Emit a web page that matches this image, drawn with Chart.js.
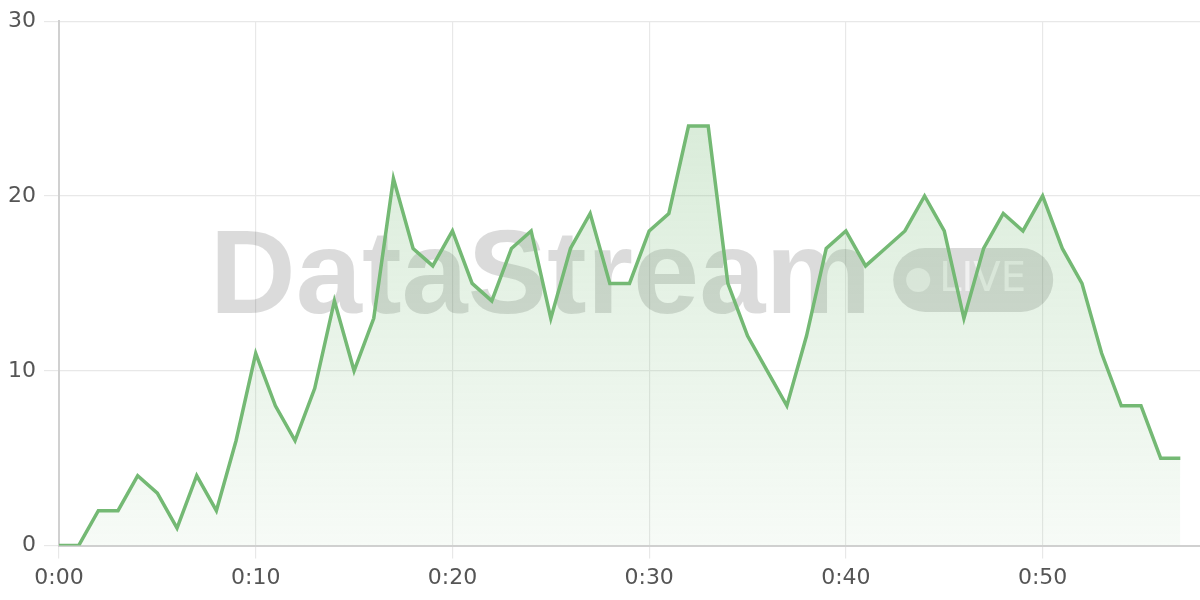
<!DOCTYPE html>
<html>
<head>
<meta charset="utf-8">
<script src="https://cdn.jsdelivr.net/npm/chart.js@4/dist/chart.umd.min.js"></script>
<style>
    html, body { margin: 0; padding: 0; background: #fff; }
    #wrap { width: 1200px; height: 600px; }
</style>
</head>
<body>
<div id="wrap"><canvas id="streamChart"></canvas></div>
<script>
// minutes since start and viewer count per minute
const minutes = [0, 1, 2, 3, 4, 5, 6, 7, 8, 9, 10, 11, 12, 13, 14, 15, 16, 17, 18, 19,
    20, 21, 22, 23, 24, 25, 26, 27, 28, 29, 30, 31, 32, 33, 34, 35, 36, 37, 38, 39,
    40, 41, 42, 43, 44, 45, 46, 47, 48, 49, 50, 51, 52, 53, 54, 55, 56, 57];
const viewers = [0, 0, 2, 2, 4, 3, 1, 4, 2, 6, 11, 8, 6, 9, 14, 10, 13, 21, 17, 16,
    18, 15, 14, 17, 18, 13, 17, 19, 15, 15, 18, 19, 24, 24, 15, 12, 10, 8, 12, 17,
    18, 16, 17, 18, 20, 18, 13, 17, 19, 18, 20, 17, 15, 11, 8, 8, 5, 5];
const xTicks = [0, 10, 20, 30, 40, 50];
const yTicks = [0, 10, 20, 30];

const green = 'rgb(116, 185, 116)';
const tickFont = { family: 'DejaVu Sans', size: 22 };

// Watermark drawn under the datasets
const watermark = {
    id: 'watermark',
    beforeDatasetsDraw(chart) {
        const { ctx, chartArea } = chart;
        const cx = (chartArea.left + chartArea.right) / 2 + 2;
        const base = 313;
        ctx.save();
        ctx.font = 'bold 119px "Liberation Sans"';
        const word = 'DataStream';
        const wordW = ctx.measureText(word).width;
        const pillW = 160, pillH = 64, gap = 22;
        const total = wordW + gap + pillW;
        const x0 = cx - total / 2;
        ctx.fillStyle = 'rgba(0, 0, 0, 0.14)';
        ctx.textBaseline = 'alphabetic';
        ctx.fillText(word, x0, base);

        // LIVE pill
        const px = x0 + wordW + gap;
        const py = base - 65;
        ctx.beginPath();
        ctx.roundRect(px, py, pillW, pillH, pillH / 2);
        ctx.fill();
        ctx.fillStyle = 'rgba(255, 255, 255, 0.6)';
        ctx.beginPath();
        ctx.arc(px + 25, py + pillH / 2, 12, 0, Math.PI * 2);
        ctx.fill();
        ctx.font = '40px "DejaVu Sans"';
        ctx.textBaseline = 'middle';
        ctx.fillText('LIVE', px + 46, py + pillH / 2 + 1);
        ctx.restore();
    }
};

const ctx = document.getElementById('streamChart').getContext('2d');
new Chart(ctx, {
    type: 'line',
    data: {
        datasets: [{
            data: minutes.map((m, i) => ({ x: m, y: viewers[i] })),
            borderColor: green,
            borderWidth: 3.5,
            pointRadius: 0,
            tension: 0,
            fill: 'origin',
            backgroundColor: (context) => {
                const area = context.chart.chartArea;
                if (!area) return 'rgba(116, 185, 116, 0.15)';
                const g = context.chart.ctx.createLinearGradient(0, area.top, 0, area.bottom);
                g.addColorStop(0, 'rgba(116, 185, 116, 0.32)');
                g.addColorStop(1, 'rgba(116, 185, 116, 0.06)');
                return g;
            }
        }]
    },
    options: {
        responsive: true,
        maintainAspectRatio: false,
        animation: false,
        layout: { padding: { left: 0, top: 5, right: 0, bottom: 3 } },
        plugins: {
            legend: { display: false },
            tooltip: { enabled: false }
        },
        scales: {
            x: {
                type: 'linear',
                min: 0,
                max: 58,
                afterBuildTicks: (scale) => {
                    scale.ticks = xTicks.map(v => ({ value: v }));
                },
                ticks: {
                    autoSkip: false,
                    maxRotation: 0,
                    padding: 6,
                    color: '#555',
                    font: tickFont,
                    callback: (v) => '0:' + String(v).padStart(2, '0')
                },
                grid: { color: '#e8e8e8', lineWidth: 1.2, tickLength: 13 },
                border: { color: '#d0d0d0', width: 2 }
            },
            y: {
                min: 0,
                max: 30,
                afterBuildTicks: (scale) => {
                    scale.ticks = yTicks.map(v => ({ value: v }));
                },
                ticks: {
                    padding: 8,
                    color: '#555',
                    font: tickFont
                },
                grid: { color: '#e8e8e8', lineWidth: 1.2, tickLength: 15 },
                border: { color: '#d0d0d0', width: 2 }
            }
        }
    },
    plugins: [watermark]
});
</script>
</body>
</html>
